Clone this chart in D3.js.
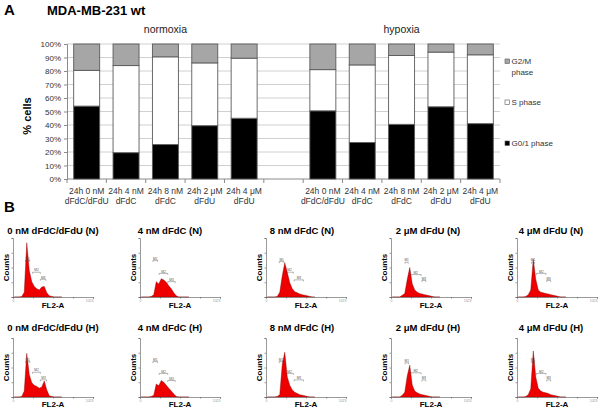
<!DOCTYPE html>
<html>
<head>
<meta charset="utf-8">
<script src="https://cdn.jsdelivr.net/npm/d3@7"></script>
<style>
  body { margin: 0; background: #fff; }
  svg { display: block; font-family: "Liberation Sans", Arial, sans-serif; }
</style>
</head>
<body>
<svg id="fig" width="600" height="410"></svg>
<script>
// ---- panel A : cell cycle distribution (% cells) ----
const conditions = [
  ["24h 0 nM", "dFdC/dFdU"],
  ["24h 4 nM", "dFdC"],
  ["24h 8 nM", "dFdC"],
  ["24h 2 \u03bcM", "dFdU"],
  ["24h 4 \u03bcM", "dFdU"]
];
const groups = ["normoxia", "hypoxia"];
const g01Normoxia = [54, 19.5, 25.5, 39.5, 45];
const sNormoxia   = [26.5, 64.5, 65, 46.5, 44.5];
const g2mNormoxia = [19.5, 16, 9.5, 14, 10.5];
const g01Hypoxia  = [50.5, 27, 40.5, 53.5, 41];
const sHypoxia    = [30.5, 57.5, 51, 40.5, 51];
const g2mHypoxia  = [19, 15.5, 8.5, 6, 8];
const phaseKeys = ["g01", "s", "g2m"];
const legendLabels = [["G2/M", "phase"], ["S phase"], ["G0/1 phase"]];
const yTicks = [0, 10, 20, 30, 40, 50, 60, 70, 80, 90, 100];

// ---- panel B : DNA histograms (FL2-A channel vs relative counts) ----
const histTitlesN = ["0 nM dFdC/dFdU (N)", "4 nM dFdC (N)", "8 nM dFdC (N)", "2 \u03bcM dFdU (N)", "4 \u03bcM dFdU (N)"];
const histTitlesH = ["0 nM dFdC/dFdU (H)", "4 nM dFdC (H)", "8 nM dFdC (H)", "2 \u03bcM dFdU (H)", "4 \u03bcM dFdU (H)"];
const channels = [16, 48, 80, 112, 144, 176, 208, 240, 272, 304, 336, 368, 400, 432, 464, 496, 528, 560, 592, 624];
const hN0  = [0, 0, 0, 0.01, 0.08, 0.92, 0.45, 0.26, 0.18, 0.14, 0.12, 0.17, 0.18, 0.07, 0.02, 0.01, 0, 0, 0, 0];
const hN4  = [0, 0, 0, 0, 0.01, 0.04, 0.26, 0.22, 0.31, 0.29, 0.25, 0.19, 0.14, 0.07, 0.02, 0, 0, 0, 0, 0];
const hN8  = [0, 0, 0, 0, 0.01, 0.08, 0.36, 0.58, 0.42, 0.24, 0.14, 0.09, 0.07, 0.05, 0.04, 0.03, 0.02, 0.01, 0, 0];
const hN2u = [0, 0, 0, 0, 0.03, 0.06, 0.3, 0.5, 0.22, 0.12, 0.08, 0.06, 0.05, 0.04, 0.03, 0.02, 0.01, 0, 0, 0];
const hN4u = [0, 0, 0, 0.01, 0.04, 0.12, 0.64, 0.3, 0.12, 0.08, 0.07, 0.06, 0.05, 0.04, 0.03, 0.02, 0.01, 0, 0, 0];
const hH0  = [0, 0, 0, 0.01, 0.1, 0.74, 0.38, 0.24, 0.2, 0.18, 0.15, 0.17, 0.27, 0.12, 0.02, 0.01, 0, 0, 0, 0];
const hH4  = [0, 0, 0, 0, 0.01, 0.03, 0.22, 0.19, 0.28, 0.25, 0.2, 0.15, 0.1, 0.05, 0.01, 0, 0, 0, 0, 0];
const hH8  = [0, 0, 0, 0, 0.01, 0.04, 0.55, 0.76, 0.34, 0.2, 0.12, 0.08, 0.06, 0.04, 0.03, 0.02, 0.01, 0, 0, 0];
const hH2u = [0, 0, 0, 0, 0.03, 0.08, 0.36, 0.54, 0.2, 0.1, 0.07, 0.05, 0.04, 0.03, 0.02, 0.01, 0, 0, 0, 0];
const hH4u = [0, 0, 0, 0.01, 0.04, 0.14, 0.78, 0.34, 0.15, 0.1, 0.08, 0.07, 0.06, 0.04, 0.03, 0.02, 0.01, 0, 0, 0];
// gate markers M1, M2, M3: [start channel, end channel, relative height]
const mN0  = [[160, 215, 0.62], [250, 350, 0.42], [350, 420, 0.3]];
const mN4  = [[165, 225, 0.62], [245, 355, 0.4], [355, 450, 0.26]];
const mN8  = [[170, 230, 0.6], [250, 350, 0.42], [360, 480, 0.29]];
const mN2u = [[180, 220, 0.59], [245, 385, 0.38], [395, 445, 0.28]];
const mN4u = [[185, 225, 0.59], [250, 370, 0.4], [380, 430, 0.28]];
const mH0  = [[160, 215, 0.6], [250, 350, 0.42], [350, 430, 0.29]];
const mH4  = [[165, 225, 0.6], [245, 355, 0.4], [355, 450, 0.28]];
const mH8  = [[170, 215, 0.6], [250, 350, 0.4], [360, 480, 0.29]];
const mH2u = [[180, 225, 0.58], [245, 385, 0.41], [395, 445, 0.29]];
const mH4u = [[185, 225, 0.6], [250, 370, 0.4], [380, 430, 0.29]];

const svg = d3.select("#fig");
svg.append("rect").attr("width", 600).attr("height", 410).attr("fill", "#fff");

// panel letters + title
svg.append("text").attr("x", 4).attr("y", 15).attr("font-size", 15).attr("font-weight", "bold").text("A");
svg.append("text").attr("x", 47).attr("y", 15).attr("font-size", 13).attr("font-weight", "bold").text("MDA-MB-231 wt");
svg.append("text").attr("x", 4).attr("y", 212).attr("font-size", 15).attr("font-weight", "bold").text("B");

// ---------- stacked bar chart ----------
const slots = [...conditions.map((c, i) => "N" + i), "gap", ...conditions.map((c, i) => "H" + i)];
const x = d3.scaleBand().domain(slots).range([67, 500]).paddingInner(0.34).paddingOuter(0.17);
const y = d3.scaleLinear().domain([0, 100]).range([179, 44]);

const rows = [];
conditions.forEach((c, i) => rows.push({ slot: "N" + i, g01: g01Normoxia[i], s: sNormoxia[i], g2m: g2mNormoxia[i] }));
conditions.forEach((c, i) => rows.push({ slot: "H" + i, g01: g01Hypoxia[i], s: sHypoxia[i], g2m: g2mHypoxia[i] }));

const chart = svg.append("g");

// gridlines
chart.append("g").selectAll("line").data(yTicks.slice(1)).join("line")
  .attr("x1", 67).attr("x2", 500)
  .attr("y1", d => y(d)).attr("y2", d => y(d))
  .attr("stroke", "#c4c4c4").attr("stroke-width", 0.8);

// y axis
chart.append("g").attr("transform", "translate(67,0)")
  .call(d3.axisLeft(y).tickValues(yTicks).tickFormat(d => d + "%").tickSize(3).tickPadding(3))
  .call(g => g.selectAll("path,line").attr("stroke", "#8a8a8a"))
  .call(g => g.selectAll("text").attr("font-size", 8).attr("fill", "#333").attr("font-family", "Liberation Sans, Arial"));

// x axis line + ticks between categories
const step = x.step();
const boundaries = slots.map(s => x(s) - (step - x.bandwidth()) / 2).concat([500]);
chart.append("line").attr("x1", 67).attr("x2", 500).attr("y1", y(0)).attr("y2", y(0)).attr("stroke", "#8a8a8a");
chart.append("g").selectAll("line").data(boundaries).join("line")
  .attr("x1", d => d).attr("x2", d => d)
  .attr("y1", y(0)).attr("y2", y(0) + 4)
  .attr("stroke", "#8a8a8a");

// stacked bars
const stacked = d3.stack().keys(phaseKeys)(rows);
const fills = { g01: "#000", s: "#fff", g2m: "#a6a6a6" };
chart.append("g").selectAll("g").data(stacked).join("g")
  .attr("fill", d => fills[d.key])
  .selectAll("rect").data(d => d).join("rect")
  .attr("x", d => x(d.data.slot))
  .attr("width", x.bandwidth())
  .attr("y", d => y(d[1]))
  .attr("height", d => y(d[0]) - y(d[1]))
  .attr("stroke", "#5a5a5a").attr("stroke-width", 0.9);

// category labels
const catLabels = chart.append("g").selectAll("text")
  .data(rows).join("text")
  .attr("text-anchor", "middle").attr("font-size", 8.5).attr("fill", "#333");
catLabels.append("tspan").attr("x", d => x(d.slot) + x.bandwidth() / 2).attr("y", 194)
  .text(d => conditions[+d.slot.slice(1)][0]);
catLabels.append("tspan").attr("x", d => x(d.slot) + x.bandwidth() / 2).attr("y", 204)
  .text(d => conditions[+d.slot.slice(1)][1]);

// group titles
chart.selectAll(".grp").data(groups).join("text")
  .attr("x", (d, i) => x((i === 0 ? "N" : "H") + "2") + x.bandwidth() / 2)
  .attr("y", 33).attr("text-anchor", "middle").attr("font-size", 10.5).attr("fill", "#222")
  .text(d => d);

// y title
svg.append("text").attr("transform", "translate(31,116) rotate(-90)")
  .attr("text-anchor", "middle").attr("font-size", 11).attr("font-weight", "bold").text("% cells");

// legend (top to bottom: G2/M, S, G0/1)
const legendY = [59, 100, 141];
const legendKeys = ["g2m", "s", "g01"];
const legend = svg.append("g").selectAll("g").data(legendKeys).join("g")
  .attr("transform", (d, i) => `translate(505,${legendY[i]})`);
legend.append("rect").attr("width", 4.5).attr("height", 4.5)
  .attr("fill", d => fills[d]).attr("stroke", "#555").attr("stroke-width", 0.6);
legend.each(function (d, i) {
  const t = d3.select(this).append("text").attr("font-size", 8).attr("fill", "#333");
  legendLabels[i].forEach((line, j) => t.append("tspan").attr("x", 6.5).attr("y", 5 + j * 10.5).text(line));
});

// ---------- histograms ----------
const histRows = [
  { titles: histTitlesN, data: [hN0, hN4, hN8, hN2u, hN4u], marks: [mN0, mN4, mN8, mN2u, mN4u], titleY: 234, top: 238, bottom: 297, flY: 308 },
  { titles: histTitlesH, data: [hH0, hH4, hH8, hH2u, hH4u], marks: [mH0, mH4, mH8, mH2u, mH4u], titleY: 331, top: 338, bottom: 397, flY: 407 }
];
const axisX = [13, 140, 266, 391, 517];
const titleX = [53, 170, 302, 428, 551];
const axisW = 80;

histRows.forEach(row => {
  row.data.forEach((vals, p) => {
    const ax = axisX[p];
    const xs = d3.scaleLinear().domain([0, 1023]).range([ax, ax + axisW]);
    const ys = d3.scaleLinear().domain([0, 1]).range([row.bottom, row.top]);
    const g = svg.append("g");

    g.append("text").attr("x", titleX[p]).attr("y", row.titleY).attr("text-anchor", "middle")
      .attr("font-size", 9.5).attr("font-weight", "bold").text(row.titles[p]);

    const pts = channels.map((c, i) => ({ c: c, v: vals[i] }));
    g.append("path").datum(pts)
      .attr("d", d3.area().x(d => xs(d.c)).y0(row.bottom).y1(d => ys(d.v)))
      .attr("fill", "#ee0000").attr("stroke", "#7a0000").attr("stroke-width", 0.4);

    // axes
    g.append("g").attr("transform", `translate(0,${row.bottom})`)
      .call(d3.axisBottom(xs).tickValues([0, 256, 512, 768, 1023]).tickSize(1.5)
        .tickFormat(d => (d === 0 || d === 1023) ? d : ""))
      .call(a => a.selectAll("path,line").attr("stroke", "#555").attr("stroke-width", 0.6))
      .call(a => a.selectAll("text").attr("font-size", 3.5).attr("fill", "#999").attr("dy", "0.2em")
        .attr("text-anchor", d => d === 1023 ? "end" : "middle"));
    g.append("g").attr("transform", `translate(${ax},0)`)
      .call(d3.axisLeft(ys).tickValues([0, 0.25, 0.5, 0.75, 1]).tickSize(1.5).tickFormat(""))
      .call(a => a.selectAll("path,line").attr("stroke", "#555").attr("stroke-width", 0.6));

    // gate markers
    row.marks[p].forEach((m, k) => {
      const yy = ys(m[2]);
      g.append("path")
        .attr("d", `M${xs(m[0])},${yy + 1.5}V${yy}H${xs(m[1])}V${yy + 1.5}`)
        .attr("fill", "none").attr("stroke", "#444").attr("stroke-width", 0.4);
      g.append("text").attr("x", (xs(m[0]) + xs(m[1])) / 2).attr("y", yy - 0.8)
        .attr("text-anchor", "middle").attr("font-size", 3.2).attr("fill", "#555").text("M" + (k + 1));
    });

    g.append("text").attr("transform", `translate(${ax - 4},${(row.top + row.bottom) / 2}) rotate(-90)`)
      .attr("text-anchor", "middle").attr("font-size", 8).attr("font-weight", "bold").text("Counts");
    g.append("text").attr("x", ax + 40).attr("y", row.flY).attr("text-anchor", "middle")
      .attr("font-size", 8).attr("font-weight", "bold").text("FL2-A");
  });
});
</script>
</body>
</html>
